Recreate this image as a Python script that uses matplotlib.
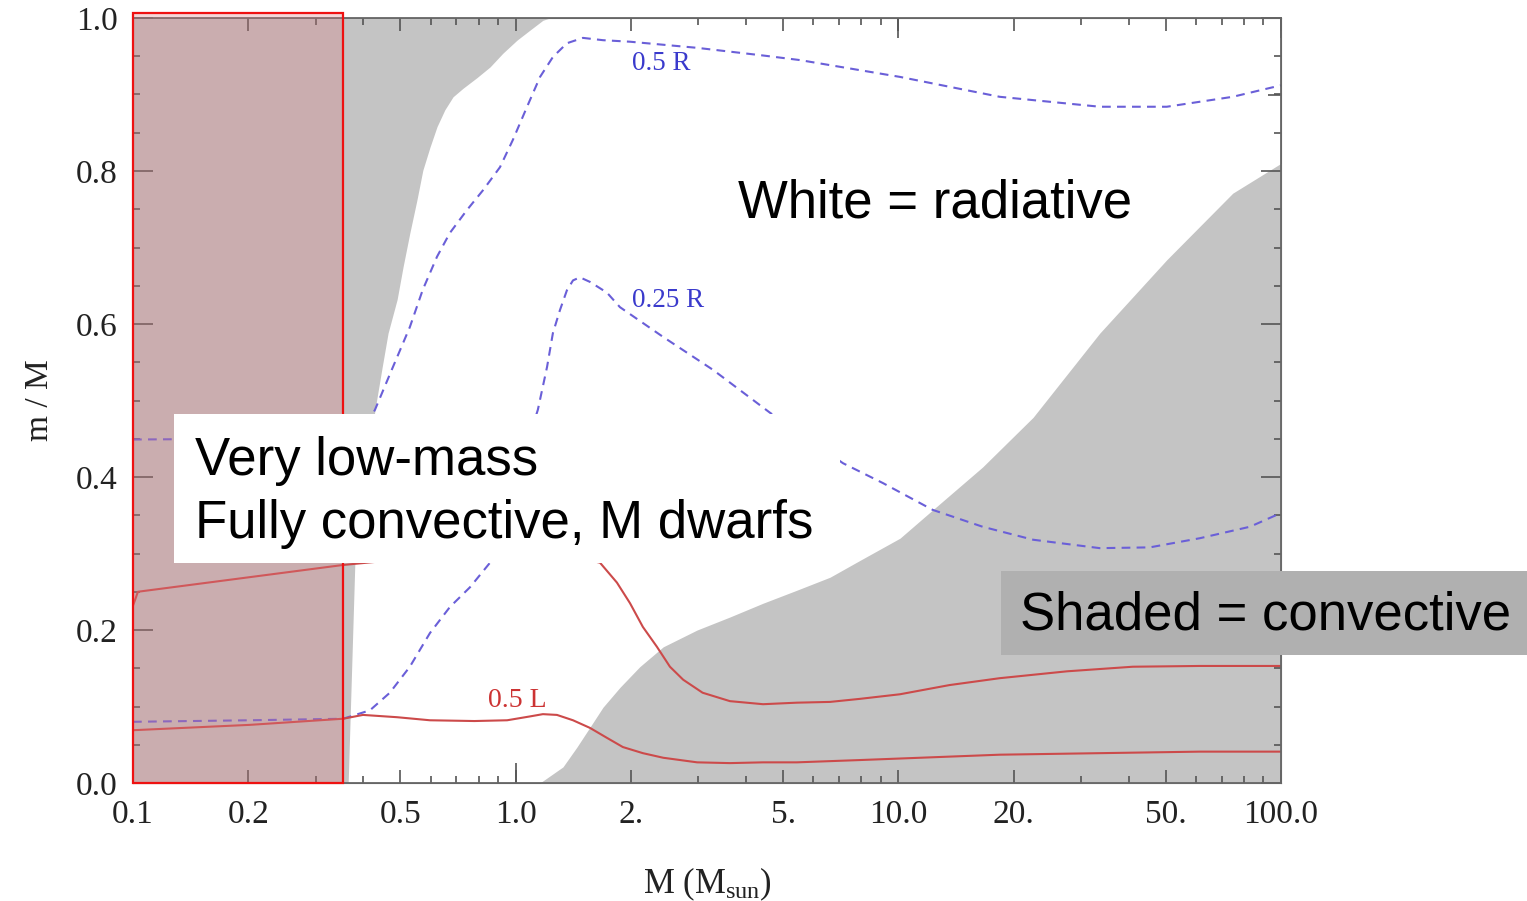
import numpy as np
import matplotlib
matplotlib.use("Agg")
import matplotlib.pyplot as plt
from matplotlib.patches import Rectangle
from matplotlib.ticker import FixedLocator, FixedFormatter, NullFormatter

plt.rcParams["mathtext.fontset"] = "custom"
plt.rcParams["mathtext.rm"] = "Liberation Serif"
plt.rcParams["mathtext.it"] = "Liberation Serif:italic"

# lower edge of the convective envelope (grey above)
env_mass = [0.1, 0.365, 0.380, 0.429, 0.448, 0.464, 0.490, 0.508, 0.529, 0.552,
            0.572, 0.597, 0.623, 0.653, 0.686, 0.728, 0.792, 0.857, 0.926, 1.008,
            1.089, 1.178, 1.229]
env_base = [0.0, 0.0, 0.288, 0.488, 0.544, 0.588, 0.632, 0.675, 0.719, 0.762,
            0.801, 0.831, 0.858, 0.880, 0.897, 0.908, 0.922, 0.936, 0.954, 0.971,
            0.984, 0.997, 1.0]

# upper edge of the convective core (grey below)
core_mass = [1.157, 1.329, 1.446, 1.564, 1.691, 1.873, 2.11, 2.43, 2.98, 3.63,
             4.43, 5.43, 6.63, 7.94, 10.1, 12.3, 16.6, 22.5, 33.6, 50.3, 74.8, 100.0]
core_top = [0.0, 0.021, 0.047, 0.073, 0.099, 0.125, 0.152, 0.178, 0.200, 0.217,
            0.235, 0.252, 0.269, 0.291, 0.320, 0.357, 0.413, 0.478, 0.588, 0.684,
            0.771, 0.810]

# 0.5 R contour
r50_mass = [0.1, 0.2, 0.36, 0.395, 0.429, 0.478, 0.529, 0.572, 0.623, 0.673,
            0.746, 0.822, 0.910, 0.984, 1.071, 1.158, 1.251, 1.361, 1.499, 1.691,
            1.990, 2.98, 4.43, 5.53, 10.1, 18.4, 33.6, 50.3, 74.8, 100.0]
r50_m = [0.449, 0.450, 0.450, 0.456, 0.488, 0.544, 0.596, 0.645, 0.688, 0.719,
         0.749, 0.775, 0.805, 0.841, 0.884, 0.923, 0.949, 0.967, 0.974, 0.971,
         0.969, 0.961, 0.951, 0.945, 0.923, 0.897, 0.884, 0.884, 0.897, 0.912]

# 0.25 R contour
r25_mass = [0.1, 0.202, 0.354, 0.416, 0.469, 0.529, 0.597, 0.673, 0.760, 0.857,
            1.143, 1.208, 1.251, 1.305, 1.361, 1.412, 1.472, 1.564, 1.732, 1.873,
            2.43, 3.28, 4.62, 7.17, 9.12, 12.3, 16.6, 22.5, 33.6, 45.4, 61.4, 83.0,
            100.0]
r25_m = [0.080, 0.082, 0.084, 0.095, 0.118, 0.152, 0.196, 0.230, 0.256, 0.288,
         0.488, 0.544, 0.588, 0.618, 0.644, 0.657, 0.661, 0.655, 0.641, 0.622,
         0.583, 0.540, 0.484, 0.418, 0.392, 0.357, 0.335, 0.318, 0.307, 0.308,
         0.320, 0.335, 0.353]

# upper luminosity contour
l90_mass = [0.1, 0.1012, 0.103, 0.354, 0.45, 0.8, 1.3, 1.661, 1.839, 1.990,
            2.15, 2.34, 2.53, 2.74, 3.08, 3.63, 4.43, 5.43, 6.63, 7.94, 10.1, 13.6,
            18.4, 27.6, 41.0, 61.4, 100.0]
l90_m = [0.232, 0.239, 0.250, 0.285, 0.290, 0.300, 0.300, 0.288, 0.262, 0.235,
         0.204, 0.178, 0.152, 0.135, 0.118, 0.107, 0.103, 0.105, 0.106, 0.110,
         0.116, 0.128, 0.137, 0.146, 0.152, 0.153, 0.153]

# 0.5 L contour
l50_mass = [0.1, 0.202, 0.354, 0.399, 0.490, 0.597, 0.780, 0.95, 1.089, 1.178,
            1.282, 1.412, 1.564, 1.732, 1.906, 2.15, 2.43, 2.98, 3.63, 4.43, 5.43,
            7.94, 10.1, 18.4, 33.6, 61.4, 100.0]
l50_m = [0.069, 0.076, 0.084, 0.089, 0.086, 0.082, 0.081, 0.082, 0.087, 0.090,
         0.089, 0.082, 0.072, 0.059, 0.047, 0.039, 0.033, 0.027, 0.026, 0.027,
         0.027, 0.030, 0.032, 0.037, 0.039, 0.041, 0.041]

x_tick_pos = [0.1, 0.2, 0.5, 1.0, 2.0, 5.0, 10.0, 20.0, 50.0, 100.0]
x_tick_labels = ["0.1", "0.2", "0.5", "1.0", "2.", "5.", "10.0", "20.", "50.", "100.0"]
decades = [0.1, 1.0, 10.0, 100.0]
y_tick_pos = [0.0, 0.2, 0.4, 0.6, 0.8, 1.0]
y_tick_labels = ["0.0", "0.2", "0.4", "0.6", "0.8", "1.0"]

fully_convective_limit = 0.354

W, H = 1527, 901
fig = plt.figure(figsize=(W / 100, H / 100), dpi=100)
ax = fig.add_axes([133 / W, 1 - 783 / H, (1281 - 133) / W, (783 - 18) / H])

grey = "#c4c4c4"
ax.fill_between(env_mass, env_base, 1.0, color=grey, lw=0, zorder=1)
ax.fill_between(core_mass, 0.0, core_top, color=grey, lw=0, zorder=1)

blue = "#6a5fd8"
red = "#cc4a4a"
for xs, ys in [(r50_mass, r50_m), (r25_mass, r25_m)]:
    ax.plot(xs, ys, color=blue, lw=1.5, dashes=(4.2, 3.0), dash_joinstyle="round",
            zorder=2)
for xs, ys in [(l90_mass, l90_m), (l50_mass, l50_m)]:
    ax.plot(xs, ys, color=red, lw=1.5, solid_joinstyle="round", zorder=2)

lab_font = "Liberation Serif"
ax.text(2.40, 0.941, "0.5 R", color="#3a3acc", fontsize=19.5, family=lab_font,
        ha="center", va="center", zorder=3)
ax.text(2.50, 0.631, "0.25 R", color="#3a3acc", fontsize=19.5, family=lab_font,
        ha="center", va="center", zorder=3)
ax.text(1.008, 0.108, "0.5 L", color="#cc3333", fontsize=20, family=lab_font,
        ha="center", va="center", zorder=3)

# fully convective region
ax.add_patch(Rectangle((0.1, 0.0), fully_convective_limit - 0.1, 1.0065,
                       facecolor=(219 / 255, 123 / 255, 129 / 255), alpha=0.3,
                       lw=0, zorder=3, clip_on=False))
ax.add_patch(Rectangle((0.1, 0.0), fully_convective_limit - 0.1, 1.0065,
                       facecolor="none", edgecolor="#ee1111", lw=1.6,
                       zorder=4, clip_on=False))

ax.set_xscale("log")
ax.set_xlim(0.1, 100)
ax.set_ylim(0, 1)

minor_x = [m * d for d in [0.1, 1.0, 10.0] for m in range(2, 10) if m not in (2, 5)]
ax.xaxis.set_major_locator(FixedLocator(x_tick_pos))
ax.xaxis.set_major_formatter(FixedFormatter(x_tick_labels))
ax.xaxis.set_minor_locator(FixedLocator(minor_x))
ax.xaxis.set_minor_formatter(NullFormatter())
ax.yaxis.set_major_locator(FixedLocator(y_tick_pos))
ax.yaxis.set_major_formatter(FixedFormatter(y_tick_labels))
ax.yaxis.set_minor_locator(FixedLocator(np.arange(0.05, 1.0, 0.05)))

tick_col = "#555555"
ax.tick_params(which="both", direction="in", top=True, right=True, color=tick_col,
               width=1.2, labelsize=24, labelcolor="#222222")
ax.tick_params(axis="x", which="major", length=9.4, pad=12)
ax.tick_params(axis="y", which="major", length=14.4, pad=11)
ax.tick_params(which="minor", length=5)
for lab in ax.get_xticklabels() + ax.get_yticklabels():
    lab.set_family(lab_font)
for sp in ax.spines.values():
    sp.set_color("#666666")
    sp.set_linewidth(1.3)

# second tick level
for loc in ["bottom", "top"]:
    sec = ax.secondary_xaxis(loc)
    sec.set_xticks(decades)
    sec.xaxis.set_minor_locator(FixedLocator([]))
    sec.tick_params(which="both", direction="in", length=14.4, width=1.2, color=tick_col,
                    labelbottom=False, labeltop=False)
    sec.spines[loc].set_color("#666666")
for loc in ["left", "right"]:
    sec = ax.secondary_yaxis(loc)
    sec.set_yticks([0.1, 0.3, 0.5, 0.7, 0.9])
    sec.yaxis.set_minor_locator(FixedLocator([]))
    sec.tick_params(which="both", direction="in", length=9.4, width=1.2, color=tick_col,
                    labelleft=False, labelright=False)
    sec.spines[loc].set_color("#666666")

fig.text(707 / W, 1 - 893 / H, r"M (M$_{\rm sun}$)", fontsize=25, family=lab_font,
         ha="center", va="baseline", color="#222222")
fig.text(40 / W, 1 - 400 / H, "m / M", fontsize=24, family=lab_font,
         rotation=90, ha="center", va="center", color="#222222")

# annotation boxes
fig.add_artist(Rectangle((174 / W, 1 - 563 / H), (840 - 174) / W, (563 - 414) / H,
                         transform=fig.transFigure, facecolor="white", lw=0, zorder=10))
fig.add_artist(Rectangle((1001 / W, 1 - 655 / H), (W - 1001) / W, (655 - 571) / H,
                         transform=fig.transFigure, facecolor="#b0b0b0", lw=0, zorder=10))

sans = "Liberation Sans"
fig.text(738 / W, 1 - 217 / H, "White = radiative", fontsize=38, family=sans,
         va="baseline", zorder=11)
fig.text(195 / W, 1 - 475 / H, "Very low-mass", fontsize=38, family=sans,
         va="baseline", zorder=11)
fig.text(195 / W, 1 - 538 / H, "Fully convective, M dwarfs", fontsize=38, family=sans,
         va="baseline", zorder=11)
fig.text(1020 / W, 1 - 630 / H, "Shaded = convective", fontsize=38, family=sans,
         va="baseline", zorder=11)

fig.savefig("out.png", dpi=100, facecolor="white")
